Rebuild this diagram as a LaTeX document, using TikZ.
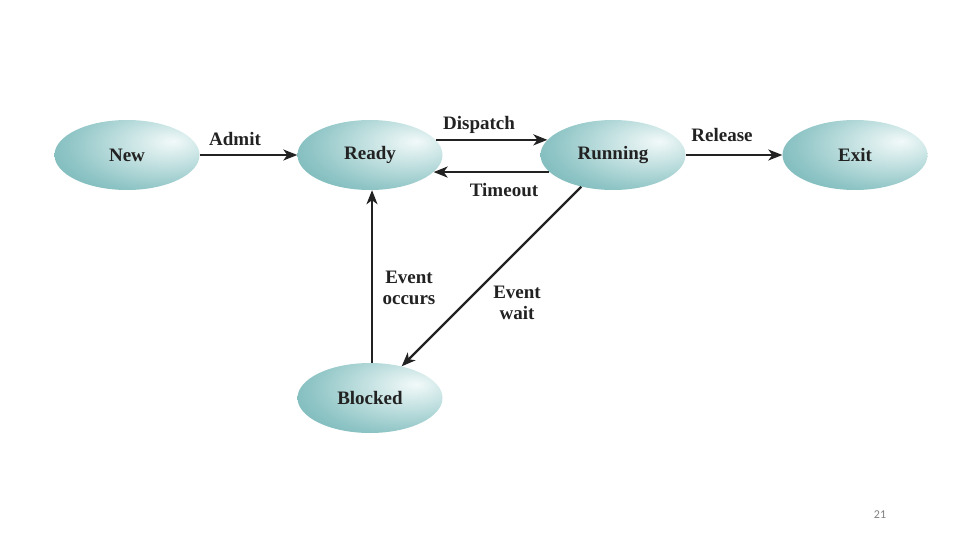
\documentclass[tikz,border=0pt]{standalone}
\usepackage{fontspec}
\setmainfont{Liberation Serif}
\newfontfamily\pagefont{Carlito}
\usetikzlibrary{shapes.geometric,arrows.meta}
\definecolor{tealedge}{HTML}{58A4A6}
\definecolor{tealmid}{HTML}{8EC4C5}
\definecolor{teallt}{HTML}{CDE6E6}
\definecolor{tealcent}{HTML}{F2F9F9}
\definecolor{inkc}{HTML}{222222}
\pgfdeclareradialshading{ellsh}{\pgfpoint{16bp}{10bp}}{%
  color(0bp)=(tealcent); color(12bp)=(teallt); color(32bp)=(tealmid); color(58bp)=(tealedge); color(100bp)=(tealedge)}
\tikzset{
  state/.style={ellipse, minimum width=145pt, minimum height=70pt, inner sep=0pt,
    shading=ellsh, font=\fontsize{19}{21}\selectfont\bfseries, text=inkc},
  conn/.style={draw=inkc, line width=2.2pt, -{Stealth[length=14pt,width=11pt,inset=4pt]}},
  lbl/.style={font=\fontsize{19}{21}\selectfont\bfseries, text=inkc, align=center, inner sep=0pt}
}
\begin{document}
\begin{tikzpicture}[x=1pt,y=-1pt]
\useasboundingbox (0,0) rectangle (960,540);
\node[state] (new) at (127,155) {New};
\node[state] (ready) at (370,155) {Ready};
\node[state] (running) at (613,155) {Running};
\node[state] (exit) at (855,155) {Exit};
\node[state] (blocked) at (370,398) {Blocked};

\draw[conn] (new) -- (ready);
\draw[conn] (ready.13) -- (running.167);
\draw[conn] (running.195) -- (ready.-15);
\draw[conn] (running) -- (exit);
\draw[conn] ([xshift=2pt]blocked.north) -- ([xshift=2pt]ready.south);
\draw[conn] (running.225) -- (blocked.45);

\node[lbl] (admit) at (235,139) {Admit};
\node[lbl] (dispatch) at (479,125) {Dispatch};
\node[lbl] (timeout) at (504,190) {Timeout};
\node[lbl] (release) at (722,135) {Release};
\node[lbl] (occurs) at (409,288) {Event\\occurs};
\node[lbl] (wait) at (517,303) {Event\\wait};

\node[font=\pagefont\fontsize{12}{14}\selectfont, text=gray] (pg) at (880,515) {21};
\end{tikzpicture}
\end{document}
